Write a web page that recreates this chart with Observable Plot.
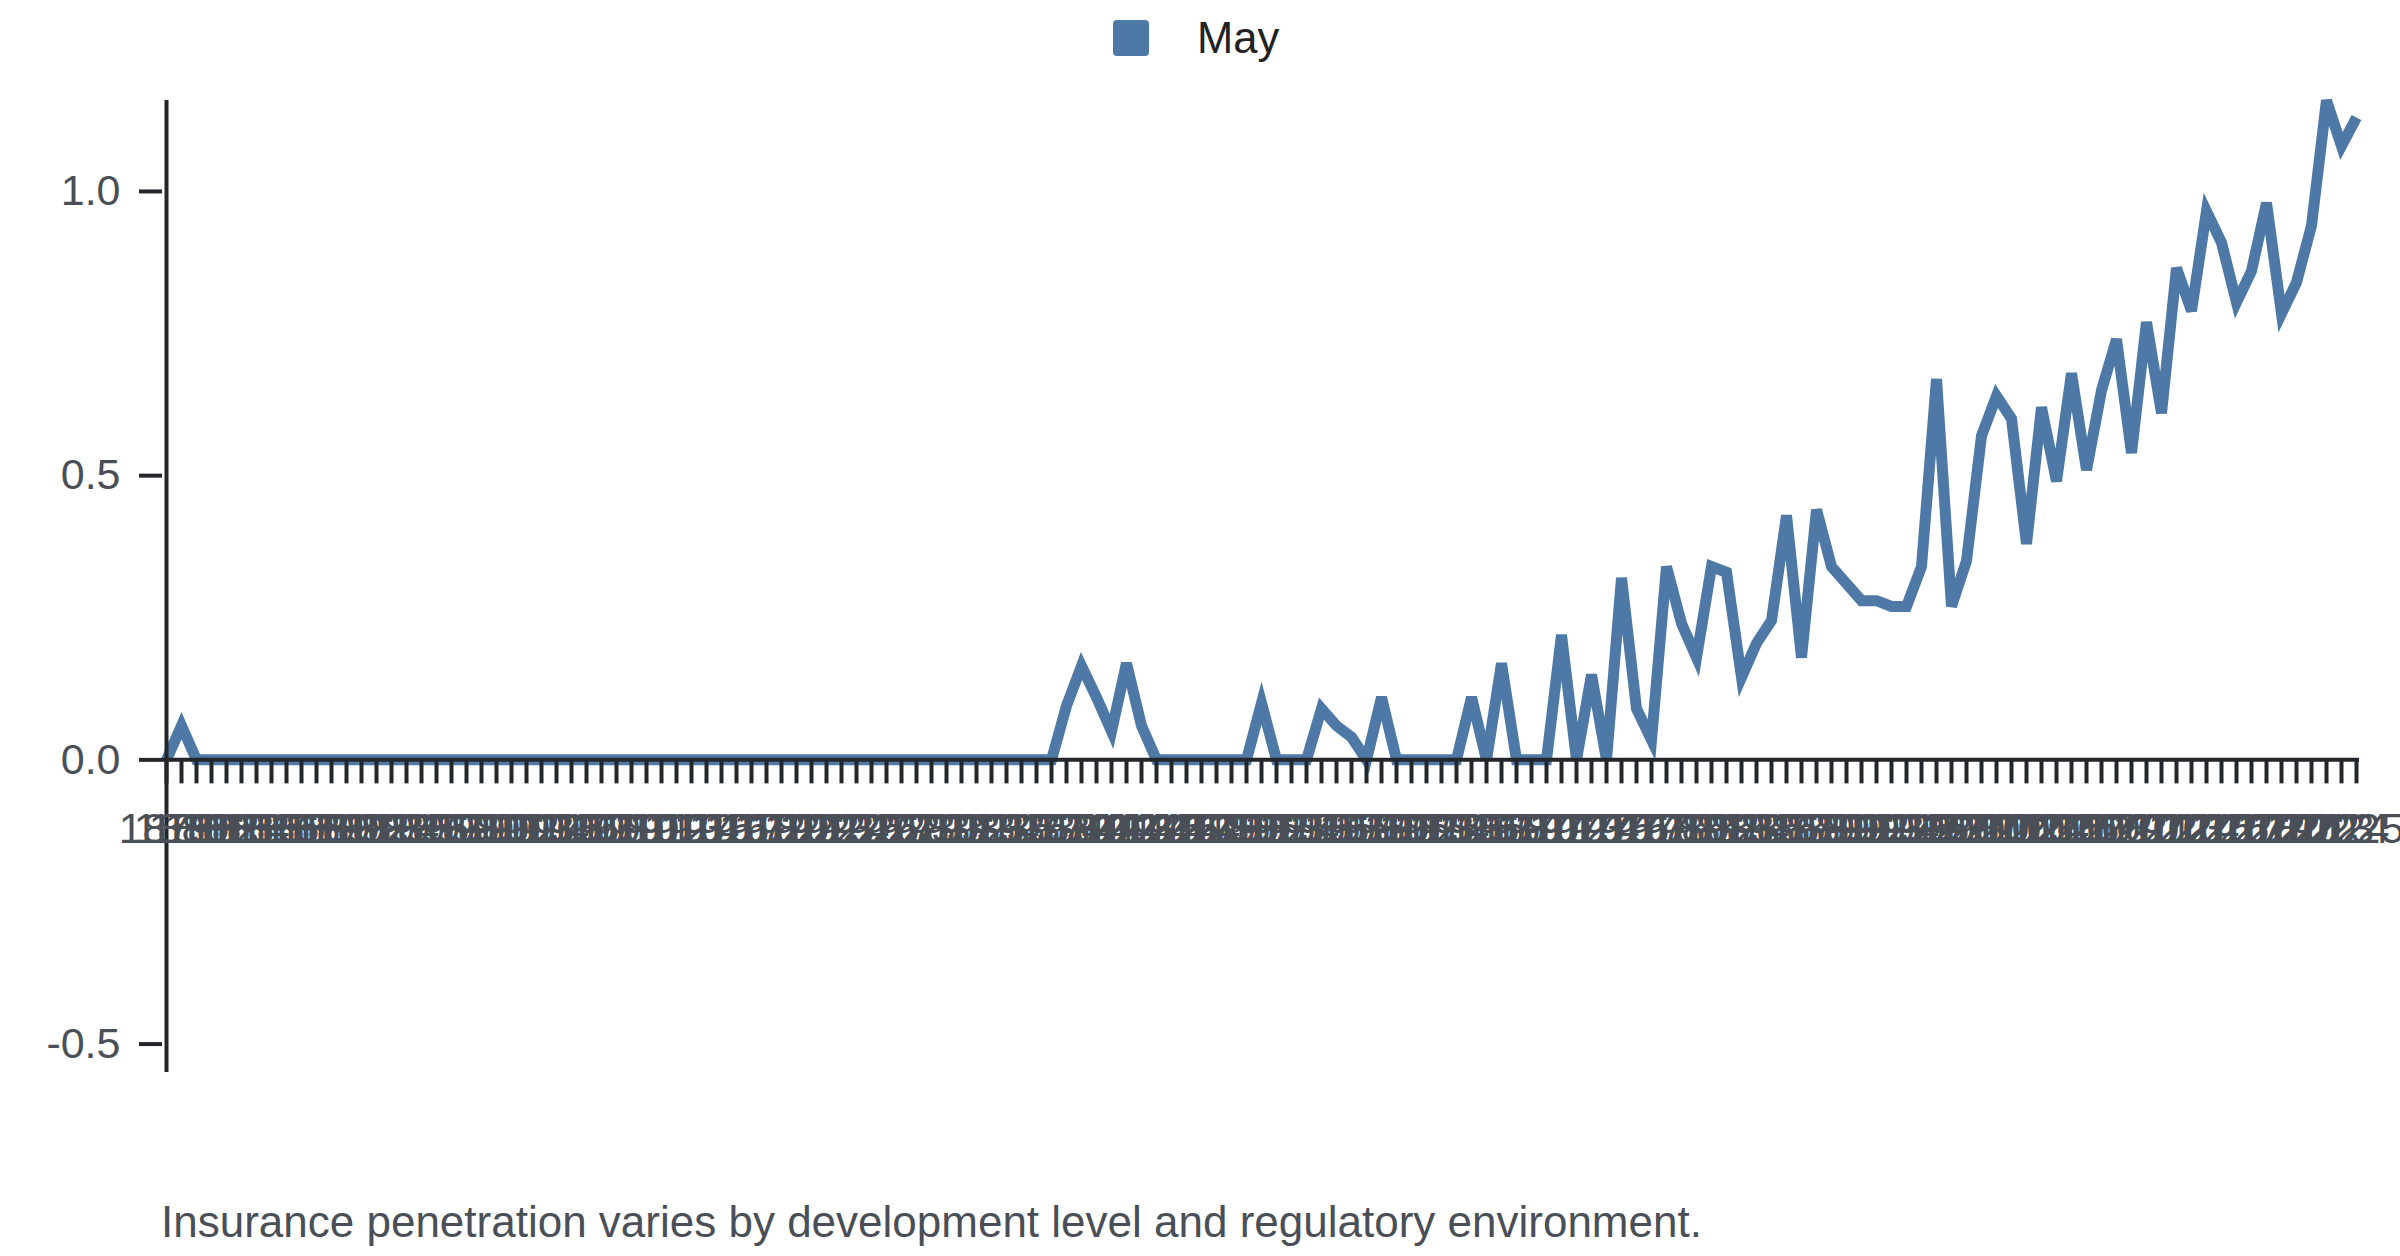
<!DOCTYPE html>
<html><head><meta charset="utf-8">
<script src="https://cdn.jsdelivr.net/npm/d3@7"></script>
<script src="https://cdn.jsdelivr.net/npm/@observablehq/plot@0.6"></script>
<style>
html,body{margin:0;padding:0;background:#fff;}
body{width:2400px;height:1256px;position:relative;overflow:hidden;font-family:"Liberation Sans",Arial,sans-serif;}
#legend{position:absolute;left:0;top:0;width:2400px;height:75px;}
#legend .sw{position:absolute;left:1113px;top:20px;width:36px;height:36px;border-radius:4px;background:#4e79a7;}
#legend .lb{position:absolute;left:1197px;top:17px;font-size:43.5px;line-height:43px;color:#222;white-space:nowrap;}
#chart{position:absolute;left:0;top:75px;}
#caption{position:absolute;left:161px;top:1199px;font-size:44px;line-height:45px;color:#4a4f57;white-space:nowrap;}
</style>
</head>
<body>
<div id="legend"><div class="sw"></div><div class="lb" id="legendLabel"></div></div>
<div id="chart"></div>
<div id="caption"></div>
<script>
// ---- data ----
const seriesName = "May";
const captionText = "Insurance penetration varies by development level and regulatory environment.";
const firstYear = 1879;
const lastYear = 2025;
const years = [];
for (let y = firstYear; y <= lastYear; y++) years.push(y);
const values = [
  0, 0.06, 0, 0, 0, 0, 0, 0, 0, 0,
  0, 0, 0, 0, 0, 0, 0, 0, 0, 0,
  0, 0, 0, 0, 0, 0, 0, 0, 0, 0,
  0, 0, 0, 0, 0, 0, 0, 0, 0, 0,
  0, 0, 0, 0, 0, 0, 0, 0, 0, 0,
  0, 0, 0, 0, 0, 0, 0, 0, 0, 0,
  0.095, 0.165, 0.11, 0.05, 0.17, 0.06, 0, 0, 0, 0,
  0, 0, 0, 0.10, 0, 0, 0, 0.09, 0.06, 0.04,
  0, 0.11, 0, 0, 0, 0, 0, 0.11, 0, 0.17,
  0, 0, 0, 0.22, 0, 0.15, 0, 0.32, 0.09, 0.035,
  0.34, 0.24, 0.18, 0.34, 0.33, 0.145, 0.205, 0.245, 0.43, 0.18,
  0.44, 0.34, 0.31, 0.28, 0.28, 0.27, 0.27, 0.34, 0.67, 0.27,
  0.35, 0.57, 0.64, 0.60, 0.38, 0.62, 0.49, 0.68, 0.51, 0.65,
  0.74, 0.54, 0.77, 0.61, 0.865, 0.79, 0.965, 0.91, 0.805, 0.86,
  0.98, 0.785, 0.84, 0.94, 1.16, 1.08, 1.13
];
const yTicks = [-0.5, 0, 0.5, 1.0];
const yDomain = [-0.55, 1.16];

// ---- build ----
const data = years.map((year, i) => ({year, value: values[i]}));
const lineColor = "#4e79a7";
const axisColor = "#23262b";
const labelColor = "#4a4f57";

document.getElementById("legendLabel").textContent = seriesName;
document.getElementById("caption").textContent = captionText;

const chart = Plot.plot({
  width: 2400,
  height: 1025,
  marginLeft: 162,
  marginRight: 41,
  marginTop: 25,
  marginBottom: 28,
  style: {fontFamily: '"Liberation Sans", Arial, sans-serif', fontSize: "43px", background: "white", overflow: "visible"},
  x: {type: "point", domain: years, padding: 0, axis: null},
  y: {domain: yDomain},
  marks: [
    Plot.line(data, {x: "year", y: "value", stroke: lineColor, strokeWidth: 11, strokeLinejoin: "miter", strokeMiterlimit: 4, strokeLinecap: "butt"}),
    Plot.ruleY([0], {stroke: axisColor, strokeWidth: 4}),
    Plot.ruleX(data, {x: "year", y1: 0, y2: 0, insetBottom: -24, stroke: axisColor, strokeWidth: 4}),
    Plot.ruleX([years[0]], {x: d => d, stroke: axisColor, strokeWidth: 4}),
    Plot.axisY({ticks: yTicks, tickSize: 23, tickPadding: 19, stroke: axisColor, strokeWidth: 4, fill: labelColor, fontSize: 43, tickFormat: d => d.toFixed(1), label: null}),
    Plot.text(data, {x: "year", y: 0, dy: 53, lineAnchor: "top", text: d => String(d.year), fill: labelColor, fontSize: 43})
  ]
});
document.getElementById("chart").appendChild(chart);
</script>
</body></html>
